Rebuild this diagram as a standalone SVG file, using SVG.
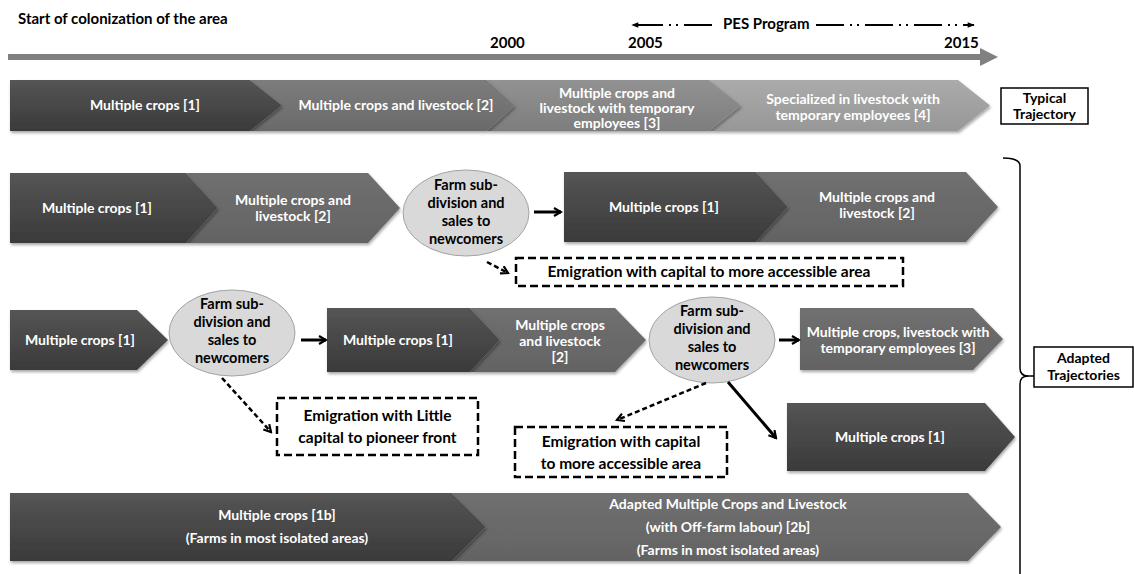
<svg xmlns="http://www.w3.org/2000/svg" width="1134" height="574" viewBox="0 0 1134 574">
  <defs>
    <style>
      .t { font-family: Lato, "Open Sans", "Liberation Sans", sans-serif; font-weight: bold; }
      .w { fill: #ffffff; font-size: 14px; text-anchor: middle; }
      .k { fill: #000000; font-size: 14.5px; text-anchor: middle; }
      .lb { fill: #000000; font-size: 14px; text-anchor: middle; }
      .hd { fill: #000000; font-size: 15px; }
      .em { font-family: Lato, "Open Sans", "Liberation Sans", sans-serif; font-weight: bold; font-size: 15.5px; fill: #000; text-anchor: middle; }
      .ell { fill: #d9d9d9; stroke: #a3a3a3; stroke-width: 1; }
      .dbox { fill: #ffffff; stroke: #000; stroke-width: 2.5; stroke-dasharray: 8 4; }
      .sbox { fill: #ffffff; stroke: #000; stroke-width: 1.5; }
      .arr { stroke: #000; stroke-width: 3; fill: none; marker-end: url(#vhead); }
      .darr { stroke: #000; stroke-width: 2.5; fill: none; stroke-dasharray: 5 3; marker-end: url(#vhead); }
      .dark { fill: url(#gDark); filter: url(#sh); }
      .mid { fill: url(#gMid); filter: url(#sh); }
      .r1b { fill: url(#gR1b); filter: url(#sh); }
      .r1c { fill: url(#gR1c); filter: url(#sh); }
      .r1d { fill: url(#gR1d); filter: url(#sh); }
    </style>
    <linearGradient id="gDark" x1="0" y1="0" x2="0" y2="1">
      <stop offset="0" stop-color="#555555"/>
      <stop offset="1" stop-color="#3a3a3a"/>
    </linearGradient>
    <linearGradient id="gMid" x1="0" y1="0" x2="0" y2="1">
      <stop offset="0" stop-color="#707070"/>
      <stop offset="1" stop-color="#636363"/>
    </linearGradient>
    <linearGradient id="gR1b" x1="0" y1="0" x2="0" y2="1">
      <stop offset="0" stop-color="#7c7c7c"/>
      <stop offset="1" stop-color="#6a6a6a"/>
    </linearGradient>
    <linearGradient id="gR1c" x1="0" y1="0" x2="0" y2="1">
      <stop offset="0" stop-color="#929292"/>
      <stop offset="1" stop-color="#7d7d7d"/>
    </linearGradient>
    <linearGradient id="gR1d" x1="0" y1="0" x2="0" y2="1">
      <stop offset="0" stop-color="#ababab"/>
      <stop offset="1" stop-color="#979797"/>
    </linearGradient>
    <filter id="sh" x="-5%" y="-10%" width="110%" height="130%">
      <feDropShadow dx="1" dy="2" stdDeviation="1.5" flood-color="#000" flood-opacity="0.35"/>
    </filter>
    <marker id="vhead" viewBox="0 0 10 10" refX="8" refY="5" markerWidth="10" markerHeight="10" markerUnits="userSpaceOnUse" orient="auto">
      <path d="M1,1 L8,5 L1,9" fill="none" stroke="#000" stroke-width="2.2"/>
    </marker>
    <marker id="lhead" viewBox="0 0 10 10" refX="9" refY="5" markerWidth="9" markerHeight="7" markerUnits="userSpaceOnUse" orient="auto">
      <path d="M0,1 L10,5 L0,9 Z" fill="#000"/>
    </marker>
  </defs>

  <!-- time axis -->
  <g id="timeline">
    <text class="t hd" x="18" y="24" font-size="15.5">Start of colonization of the area</text>
    <text class="t hd" x="490" y="48">2000</text>
    <text class="t hd" x="628" y="48">2005</text>
    <text class="t hd" x="944" y="48">2015</text>
    <text class="t hd" x="723" y="29">PES Program</text>
    <line x1="712" y1="25" x2="632" y2="25" stroke="#000" stroke-width="2" stroke-dasharray="28 6 2 5 2 6" marker-end="url(#lhead)"/>
    <line x1="816" y1="25" x2="974" y2="25" stroke="#000" stroke-width="2" stroke-dasharray="28 6 2 5 2 6" marker-end="url(#lhead)"/>
    <rect x="8" y="54" width="974" height="6" fill="#808080"/>
    <polygon points="980,48 998,57 980,66" fill="#808080"/>
  </g>

  <!-- typical trajectory -->
  <g id="typical">
    <path class="r1d" d="M709,80 L958,80 L990,105.5 L958,131 L709,131 L741,105.5 Z"/>
    <path class="r1c" d="M487,80 L709,80 L741,105.5 L709,131 L487,131 L515,105.5 Z"/>
    <path class="r1b" d="M250,80 L487,80 L515,105.5 L487,131 L250,131 L282,105.5 Z"/>
    <path class="dark" d="M10,80 L250,80 L282,105.5 L250,131 L10,131 Z"/>
    <text class="t w" x="145" y="110">Multiple crops [1]</text>
    <text class="t w" x="396" y="110">Multiple crops and livestock  [2]</text>
    <text class="t w" x="617" y="98">Multiple crops and</text>
    <text class="t w" x="617" y="113">livestock with temporary</text>
    <text class="t w" x="617" y="128">employees [3]</text>
    <text class="t w" x="853" y="104">Specialized in livestock with</text>
    <text class="t w" x="853" y="120">temporary employees [4]</text>
  </g>
  <g id="typical-label">
    <rect class="sbox" x="1001" y="88" width="87" height="36"/>
    <text class="t lb" x="1044.5" y="103">Typical</text>
    <text class="t lb" x="1044.5" y="119">Trajectory</text>
  </g>

  <!-- adapted trajectory 1 -->
  <g id="row2-left">
    <path class="mid" d="M186,173 L368,173 L400,208 L368,243 L186,243 L218,208 Z"/>
    <path class="dark" d="M10,173 L186,173 L218,208 L186,243 L10,243 Z"/>
    <text class="t w" x="97" y="213">Multiple crops [1]</text>
    <text class="t w" x="293" y="205">Multiple crops and</text>
    <text class="t w" x="293" y="221">livestock [2]</text>
  </g>
  <g id="split-1">
    <ellipse class="ell" cx="466" cy="213" rx="63" ry="43"/>
    <text class="t k" x="466" y="190">Farm sub-</text>
    <text class="t k" x="466" y="208">division  and</text>
    <text class="t k" x="466" y="226">sales to</text>
    <text class="t k" x="466" y="244">newcomers</text>
  </g>
  <g id="row2-right">
    <path class="mid" d="M756,172 L966,172 L998,207 L966,242 L756,242 L788,207 Z"/>
    <path class="dark" d="M564,172 L756,172 L788,207 L756,242 L564,242 Z"/>
    <text class="t w" x="664" y="212">Multiple crops [1]</text>
    <text class="t w" x="877" y="202">Multiple crops and</text>
    <text class="t w" x="877" y="218">livestock [2]</text>
  </g>
  <g id="emigration-1">
    <rect class="dbox" x="516" y="258" width="387" height="28"/>
    <text class="em" x="709" y="277">Emigration with capital to more accessible area</text>
  </g>

  <!-- adapted trajectory 2 -->
  <g id="row3-a">
    <path class="dark" d="M10,310 L137,310 L168,340 L137,370 L10,370 Z"/>
    <text class="t w" x="80" y="345">Multiple crops [1]</text>
  </g>
  <g id="split-2">
    <ellipse class="ell" cx="232" cy="333" rx="63" ry="43"/>
    <text class="t k" x="232" y="309">Farm sub-</text>
    <text class="t k" x="232" y="327">division  and</text>
    <text class="t k" x="232" y="345">sales to</text>
    <text class="t k" x="232" y="363">newcomers</text>
  </g>
  <g id="row3-b">
    <path class="mid" d="M470,308 L615,308 L646,340 L615,372 L470,372 L500,340 Z"/>
    <path class="dark" d="M327,308 L470,308 L500,340 L470,372 L327,372 Z"/>
    <text class="t w" x="398" y="345">Multiple crops [1]</text>
    <text class="t w" x="560" y="330">Multiple crops</text>
    <text class="t w" x="560" y="346">and livestock</text>
    <text class="t w" x="560" y="362">[2]</text>
  </g>
  <g id="split-3">
    <ellipse class="ell" cx="712" cy="340" rx="63" ry="43"/>
    <text class="t k" x="712" y="316">Farm sub-</text>
    <text class="t k" x="712" y="334">division  and</text>
    <text class="t k" x="712" y="352">sales to</text>
    <text class="t k" x="712" y="370">newcomers</text>
  </g>
  <g id="row3-c">
    <path class="mid" d="M800,308 L973,308 L1003,339 L973,370 L800,370 Z"/>
    <text class="t w" x="898" y="337">Multiple crops, livestock with</text>
    <text class="t w" x="898" y="353">temporary employees [3]</text>
  </g>
  <g id="row3-d">
    <path class="dark" d="M787,403 L985,403 L1015,437 L985,471 L787,471 Z"/>
    <text class="t w" x="890" y="442">Multiple crops [1]</text>
  </g>
  <g id="emigration-2">
    <rect class="dbox" x="277" y="398" width="201" height="57"/>
    <text class="em" x="377.5" y="421">Emigration with Little</text>
    <text class="em" x="377.5" y="443">capital to pioneer front</text>
  </g>
  <g id="emigration-3">
    <rect class="dbox" x="515" y="427" width="212" height="50"/>
    <text class="em" x="621" y="447">Emigration with capital</text>
    <text class="em" x="621" y="469">to more accessible area</text>
  </g>

  <!-- adapted trajectory 3 -->
  <g id="row4">
    <path class="mid" d="M452,493 L968,493 L1001,527 L968,561 L452,561 L486,527 Z"/>
    <path class="dark" d="M10,493 L452,493 L486,527 L452,561 L10,561 Z"/>
    <text class="t w" x="277" y="520">Multiple crops [1b]</text>
    <text class="t w" x="277" y="543">(Farms in most isolated areas)</text>
    <text class="t w" x="728" y="509">Adapted Multiple Crops and Livestock</text>
    <text class="t w" x="728" y="532">(with Off-farm labour) [2b]</text>
    <text class="t w" x="728" y="555">(Farms in most isolated areas)</text>
  </g>

  <!-- brace and label -->
  <g id="adapted-label">
    <path d="M1003,158 Q1020,158 1020,166 L1020,368 Q1020,376 1028,376 Q1020,376 1020,384 L1020,580" fill="none" stroke="#000" stroke-width="1.5"/>
    <line x1="1026" y1="376" x2="1034" y2="376" stroke="#000" stroke-width="1.5"/>
    <rect class="sbox" x="1034" y="347" width="99" height="40"/>
    <text class="t lb" x="1083.5" y="363">Adapted</text>
    <text class="t lb" x="1083.5" y="380">Trajectories</text>
  </g>

  <!-- connectors -->
  <g id="connectors">
    <line class="arr" x1="534" y1="212" x2="561" y2="212"/>
    <line class="darr" x1="487" y1="262" x2="508" y2="273"/>
    <line class="arr" x1="301" y1="340" x2="326" y2="340"/>
    <line class="darr" x1="222" y1="378" x2="271" y2="432"/>
    <line class="arr" x1="779" y1="340" x2="799" y2="340"/>
    <line class="darr" x1="706" y1="383" x2="617" y2="420"/>
    <line class="arr" x1="728" y1="382" x2="776" y2="438"/>
  </g>
</svg>
